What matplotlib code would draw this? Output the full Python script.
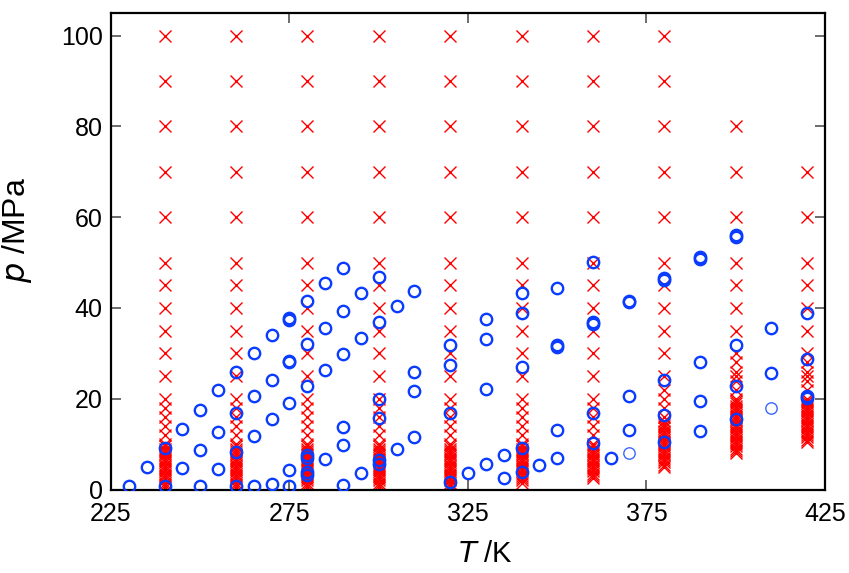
import numpy as np
import matplotlib
matplotlib.use('Agg')
import matplotlib.pyplot as plt

plt.rcParams['font.family'] = ['Liberation Sans', 'DejaVu Sans']

# red crosses: isotherm grid of p at each T
grid_T = [240, 260, 280, 300, 320, 340, 360, 380, 400, 420]
high_p = [100, 90, 80, 70, 60, 50, 45, 40, 35, 30, 25]
mid_p = [20, 18, 16, 14, 12]
p_top = [100, 100, 100, 100, 100, 100, 100, 100, 80, 70]
dense_hi = [10, 10, 10, 10, 10, 10, 10, 15, 20, 20]
dense_lo = [0.5, 0.5, 0.5, 0.5, 0.5, 1.5, 2.5, 5.0, 8.0, 10.5]
extra_p = {380: [22], 400: [28, 26, 24, 22], 420: [28, 26, 24, 22]}

# blue circles: measured points
meas_T = [230, 235, 240, 240, 245, 245, 250, 250, 250, 255, 255, 255,
          260, 260, 260, 260, 265, 265, 265, 265, 270, 270, 270, 270,
          275, 275, 275, 275, 275, 275, 275,
          280, 280, 280, 280, 280, 280, 280,
          285, 285, 285, 285, 290, 290, 290, 290, 290, 290,
          295, 295, 295, 300, 300, 300, 300, 300, 300, 305, 305,
          310, 310, 310, 310, 320, 320, 320, 320, 325,
          330, 330, 330, 330, 335, 335, 340, 340, 340, 340, 340, 345,
          350, 350, 350, 350, 350, 360, 360, 360, 360, 360, 365,
          370, 370, 370, 370, 380, 380, 380, 380, 380,
          390, 390, 390, 390, 390, 400, 400, 400, 400, 400,
          410, 410, 420, 420, 420, 420]
meas_p = [0.8, 5.0, 0.8, 9.2, 13.4, 4.8, 17.6, 8.8, 0.8, 22.0, 12.7, 4.5,
          26.0, 16.8, 8.3, 0.8, 30.0, 20.5, 11.9, 0.8, 34.0, 24.2, 15.5, 1.3,
          37.7, 37.3, 28.4, 28.0, 19.1, 4.4, 0.8,
          41.6, 32.0, 22.8, 7.0, 7.6, 3.3, 3.8,
          45.4, 35.7, 26.4, 6.7, 48.9, 39.4, 29.9, 13.8, 9.8, 1.0,
          43.2, 33.4, 3.7, 46.9, 37.0, 19.9, 15.8, 6.4, 5.7, 40.4, 8.9,
          43.8, 25.9, 21.6, 11.5, 31.9, 27.5, 16.8, 1.7, 3.7,
          37.6, 33.2, 22.2, 5.6, 7.5, 2.5, 43.3, 39.0, 27.1, 9.2, 3.9, 5.4,
          44.5, 31.9, 31.5, 13.1, 7.0, 50.1, 36.9, 36.4, 16.9, 10.2, 6.9,
          41.6, 41.3, 20.7, 13.1, 46.6, 46.2, 24.2, 16.4, 10.5,
          51.3, 50.9, 28.2, 19.4, 13.0, 56.1, 55.6, 31.8, 22.8, 15.5,
          35.5, 25.6, 39.0, 28.7, 20.6, 20.2]

# second, lighter set of circles
light_T = [370, 410]
light_p = [8.1, 17.9]

cross_T = []
cross_p = []
for i, T in enumerate(grid_T):
    ps = [p for p in high_p if p <= p_top[i]] + extra_p.get(T, [])
    ps += [p for p in mid_p if p > dense_hi[i]]
    ps += list(np.arange(dense_hi[i], dense_lo[i] - 0.01, -0.5))
    cross_T += [T] * len(ps)
    cross_p += ps

fig = plt.figure(figsize=(8.49, 5.73), dpi=100)
ax = fig.add_axes([0.1307, 0.1457, 0.8410, 0.8316])

ax.plot(cross_T, cross_p, linestyle='none', marker='x', color='#ff0000',
        markersize=8.2, markeredgewidth=1.0, zorder=2)
ax.plot(meas_T, meas_p, linestyle='none', marker='o', markerfacecolor='none',
        markeredgecolor='#0a3cff', markersize=8.2, markeredgewidth=1.7, zorder=3)
ax.plot(light_T, light_p, linestyle='none', marker='o', markerfacecolor='none',
        markeredgecolor='#3a66ff', markersize=8.2, markeredgewidth=1.0, zorder=3)

ax.set_xlim(225, 425)
ax.set_ylim(0, 105)
ax.set_xticks([225, 275, 325, 375, 425])
ax.set_yticks([0, 20, 40, 60, 80, 100])
ax.tick_params(direction='in', length=7.5, width=1.1, color='#444444',
               labelsize=18, top=True, right=True)
ax.tick_params(axis='x', pad=9)
ax.tick_params(axis='y', pad=6)
for s in ax.spines.values():
    s.set_linewidth(1.6)

ax.set_xlabel(r'$T$ /K', fontsize=21)
ax.set_ylabel(r'$p$ /MPa', fontsize=23)
ax.xaxis.set_label_coords(0.524, -0.105)
ax.yaxis.set_label_coords(-0.108, 0.545)

fig.savefig('out.png', dpi=100)
